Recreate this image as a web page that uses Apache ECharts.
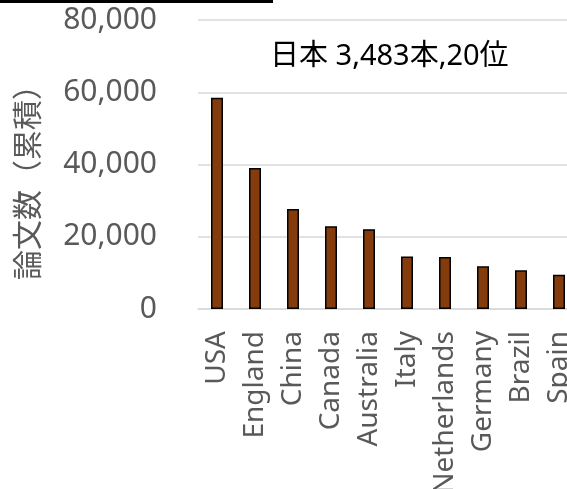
<!DOCTYPE html>
<html>
<head>
<meta charset="utf-8">
<script src="https://cdn.jsdelivr.net/npm/echarts@6/dist/echarts.min.js"></script>
<style>html,body{margin:0;padding:0;background:#fff}#c{width:567px;height:489px}</style>
</head>
<body>
<div id="c"></div>
<script>
const categories = ["USA","England","China","Canada","Australia","Italy","Netherlands","Germany","Brazil","Spain"];
const papers = [58500, 39000, 27700, 22900, 22100, 14500, 14400, 11800, 10700, 9500];
const yTicks = [0, 20000, 40000, 60000, 80000];
const yAxisTitle = "論文数（累積）";
const annotation = "日本 3,483本,20位";

const chart = echarts.init(document.getElementById('c'), null, {renderer: 'canvas'});
const fmt = v => String(v).replace(/\B(?=(\d{3})+(?!\d))/g, ',');
chart.setOption({
  animation: false,
  grid: {left: 198, top: 20, height: 289, width: 380, containLabel: false, outerBoundsMode: 'none'},
  xAxis: {
    type: 'category',
    data: categories,
    axisLine: {show: true, lineStyle: {color: '#d9d9d9', width: 1.5}},
    axisTick: {show: false},
    axisLabel: {rotate: 90, interval: 0, color: '#595959', fontSize: 28, fontFamily: '"Noto Sans", sans-serif', margin: 22}
  },
  yAxis: {
    type: 'value',
    min: yTicks[0], max: yTicks[yTicks.length - 1], interval: 20000,
    axisLine: {show: false},
    axisTick: {show: false},
    splitLine: {lineStyle: {color: '#d9d9d9', width: 1.5}},
    axisLabel: {color: '#595959', fontSize: 30, fontFamily: '"Noto Sans", sans-serif', margin: 41, formatter: fmt}
  },
  series: [{
    type: 'bar',
    data: papers,
    barWidth: 12,
    itemStyle: {color: '#843C0C', borderColor: '#000', borderWidth: 1.5}
  }],
  graphic: [
    {type: 'line', shape: {x1: 0, y1: 1.5, x2: 273, y2: 1.5}, style: {stroke: '#000', lineWidth: 3}},
    {type: 'text', x: 27, y: 175, rotation: Math.PI / 2,
     style: {text: yAxisTitle, fill: '#595959', fontSize: 30, fontFamily: '"Noto Sans CJK JP", sans-serif', align: 'center', verticalAlign: 'middle'}},
    {type: 'text', left: 270, top: 42, style: {text: annotation, fill: '#000', fontSize: 29, fontFamily: '"Noto Sans", "Noto Sans CJK JP", sans-serif'}}
  ]
});
</script>
</body>
</html>
